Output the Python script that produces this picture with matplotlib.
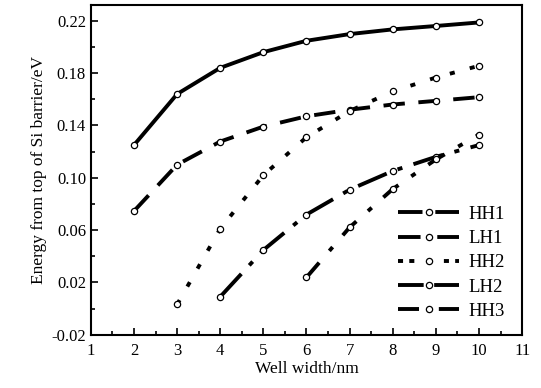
import matplotlib
matplotlib.use("Agg")
import matplotlib.pyplot as plt
from matplotlib.lines import Line2D
from matplotlib.ticker import MultipleLocator

plt.rcParams["font.family"] = ["Liberation Serif", "DejaVu Serif"]

# dados
nomes = ["HH1", "LH1", "HH2", "LH2", "HH3"]
x_hh1 = [2, 3, 4, 5, 6, 7, 8, 9, 10]
y_hh1 = [0.125, 0.164, 0.184, 0.196, 0.2047, 0.2098, 0.2134, 0.216, 0.2187]
x_lh1 = [2, 3, 4, 5, 6, 7, 8, 9, 10]
y_lh1 = [0.0746, 0.110, 0.1277, 0.1391, 0.147, 0.152, 0.156, 0.1588, 0.1616]
x_hh2 = [3, 4, 5, 6, 7, 8, 9, 10]
y_hh2 = [0.0032, 0.0611, 0.102, 0.131, 0.151, 0.166, 0.1766, 0.1856]
x_lh2 = [4, 5, 6, 7, 8, 9, 10]
y_lh2 = [0.0091, 0.0448, 0.0719, 0.0909, 0.1052, 0.116, 0.125]
x_hh3 = [6, 7, 8, 9, 10]
y_hh3 = [0.0239, 0.0621, 0.0914, 0.114, 0.133]

estilos = ["-", (0, (5.5, 3.5)), (0, (1.3, 4)), (0, (8, 3, 1.3, 3)), (0, (5, 4, 1.3, 4))]
series = [(x_hh1, y_hh1), (x_lh1, y_lh1), (x_hh2, y_hh2), (x_lh2, y_lh2), (x_hh3, y_hh3)]

fig = plt.figure(figsize=(5.41, 3.88), dpi=100)
ax = fig.add_axes([0.168, 0.137, 0.797, 0.850])

for (xs, ys), ls in zip(series, estilos):
    ax.plot(xs, ys, color="black", linestyle=ls, linewidth=2.8,
            marker="o", markersize=4.5, markerfacecolor="white",
            markeredgecolor="black", markeredgewidth=0.9)

# legenda: traco - circulo - traco
leg_estilos = [(0, (6.3, 3.3)), (0, (5.8, 4.3)), (0, (1.3, 1.6, 1.3, 7.6)),
               (0, (6.6, 2.7)), (0, (5.4, 5.1))]
handles = [Line2D([0], [0], color="black", linestyle=ls, linewidth=2.8,
                  marker="o", markersize=4.5, markerfacecolor="white",
                  markeredgecolor="black", markeredgewidth=0.9)
           for ls in leg_estilos]
ax.legend(handles, nomes, loc="lower right", frameon=False, fontsize=13.5,
          handlelength=3.3, handletextpad=0.5, labelspacing=0.38,
          bbox_to_anchor=(1.0, -0.006))

ax.set_xlim(1, 11)
ax.set_ylim(-0.02, 0.232)
ax.xaxis.set_major_locator(MultipleLocator(1))
ax.xaxis.set_minor_locator(MultipleLocator(0.5))
ax.yaxis.set_minor_locator(MultipleLocator(0.02))
ax.set_yticks([-0.02, 0.02, 0.06, 0.10, 0.14, 0.18, 0.22])
ax.set_yticklabels(["-0.02", "0.02", "0.06", "0.10", "0.14", "0.18", "0.22"])
ax.tick_params(which="both", direction="in", labelsize=12, width=1.2)
ax.tick_params(which="major", length=5)
ax.tick_params(which="minor", length=3)
ax.tick_params(axis="x", pad=6)
for s in ax.spines.values():
    s.set_linewidth(1.5)

ax.set_xlabel("Well width/nm", fontsize=12.5, labelpad=1)
ax.set_ylabel("Energy from top of Si barrier/eV", fontsize=12.5, labelpad=3)

fig.savefig("out.png", dpi=100)
